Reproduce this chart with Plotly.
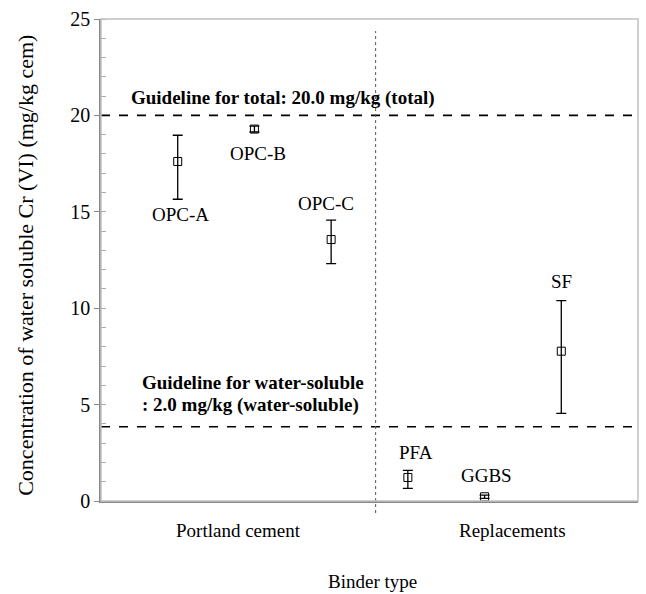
import plotly.graph_objects as go

samples = ["OPC-A", "OPC-B", "OPC-C", "PFA", "GGBS", "SF"]
xpos = [1, 2, 3, 4, 5, 6]
conc = [17.61, 19.29, 13.56, 1.22, 0.22, 7.77]
err_plus = [1.36, 0.15, 1.01, 0.37, 0.08, 2.62]
err_minus = [1.96, 0.15, 1.25, 0.57, 0.08, 3.23]
label_pos = [(1.03, 14.88, "OPC-A"), (2.04, 18.05, "OPC-B"), (2.93, 15.45, "OPC-C"),
             (4.1, 2.54, "PFA"), (5.02, 1.34, "GGBS"), (6.0, 11.4, "SF")]
total_guideline = 20.0
ws_guideline = 3.85
divider_x = 3.58
categories = [(1.79, "Portland cement"), (5.37, "Replacements")]

FONT = "Liberation Serif"

fig = go.Figure()
fig.add_trace(go.Scatter(
    x=xpos, y=conc, mode="markers",
    marker=dict(symbol="square-open", size=8, color="black", line=dict(width=1, color="black")),
    error_y=dict(type="data", symmetric=False, array=err_plus, arrayminus=err_minus,
                 color="black", thickness=1.3, width=5),
    showlegend=False, hoverinfo="skip"))

for yv in (total_guideline, ws_guideline):
    fig.add_shape(type="line", xref="paper", yref="y", x0=0, x1=1, y0=yv, y1=yv,
                  line=dict(color="black", width=1.7, dash="dash"))
fig.add_shape(type="line", xref="x", yref="paper", x0=divider_x, x1=divider_x, y0=-0.025, y1=0.975,
              line=dict(color="#555555", width=1, dash="dot"))
fig.add_shape(type="rect", xref="paper", yref="paper", x0=0, x1=1, y0=0, y1=1,
              line=dict(color="#c0c0c0", width=1.5))

for (x, y, t) in label_pos:
    fig.add_annotation(x=x, y=y, text=t, showarrow=False, xref="x", yref="y",
                       font=dict(family=FONT, size=19, color="black"))

fig.add_annotation(x=0.0516, y=20.88, xref="paper", yref="y",
                   text="<b>Guideline for total: 20.0 mg/kg (total)</b>",
                   showarrow=False, xanchor="left", yanchor="middle",
                   font=dict(family=FONT, size=19, color="black"))
fig.add_annotation(x=0.0726, y=6.14, xref="paper", yref="y",
                   text="<b>Guideline for water-soluble</b>",
                   showarrow=False, xanchor="left", yanchor="middle",
                   font=dict(family=FONT, size=19, color="black"))
fig.add_annotation(x=0.0726, y=4.99, xref="paper", yref="y",
                   text="<b>: 2.0 mg/kg (water-soluble)</b>",
                   showarrow=False, xanchor="left", yanchor="middle",
                   font=dict(family=FONT, size=19, color="black"))

for (x, t) in categories:
    fig.add_annotation(x=x, y=-0.0617, xref="x", yref="paper", text=t, showarrow=False,
                       yanchor="middle", font=dict(family=FONT, size=19, color="black"))

fig.add_annotation(x=0.506, y=-0.166, xref="paper", yref="paper", text="Binder type",
                   showarrow=False, yanchor="middle", font=dict(family=FONT, size=19, color="black"))
fig.add_annotation(x=-0.1397, y=0.49, xref="paper", yref="paper",
                   text="Concentration of water soluble Cr (VI) (mg/kg cem)", textangle=-90,
                   showarrow=False, xanchor="center", yanchor="middle",
                   font=dict(family=FONT, size=22, color="black"))

fig.update_xaxes(range=[0, 7], showticklabels=False, ticks="", showgrid=False, zeroline=False,
                 showline=True, linecolor="#888888", linewidth=1.5)
fig.update_yaxes(range=[0, 25], dtick=5, tick0=0, showgrid=False, zeroline=False,
                 showline=True, linecolor="#888888", linewidth=1.5,
                 ticks="outside", ticklen=5, tickcolor="#888888", tickwidth=1,
                 tickfont=dict(family=FONT, size=20, color="black"),
                 minor=dict(dtick=1, ticks="inside", ticklen=5, tickcolor="#aaaaaa", tickwidth=1))

fig.update_layout(width=646, height=594, margin=dict(l=101, r=8, t=15, b=93),
                  plot_bgcolor="white", paper_bgcolor="white")
fig.write_html("out.html")
